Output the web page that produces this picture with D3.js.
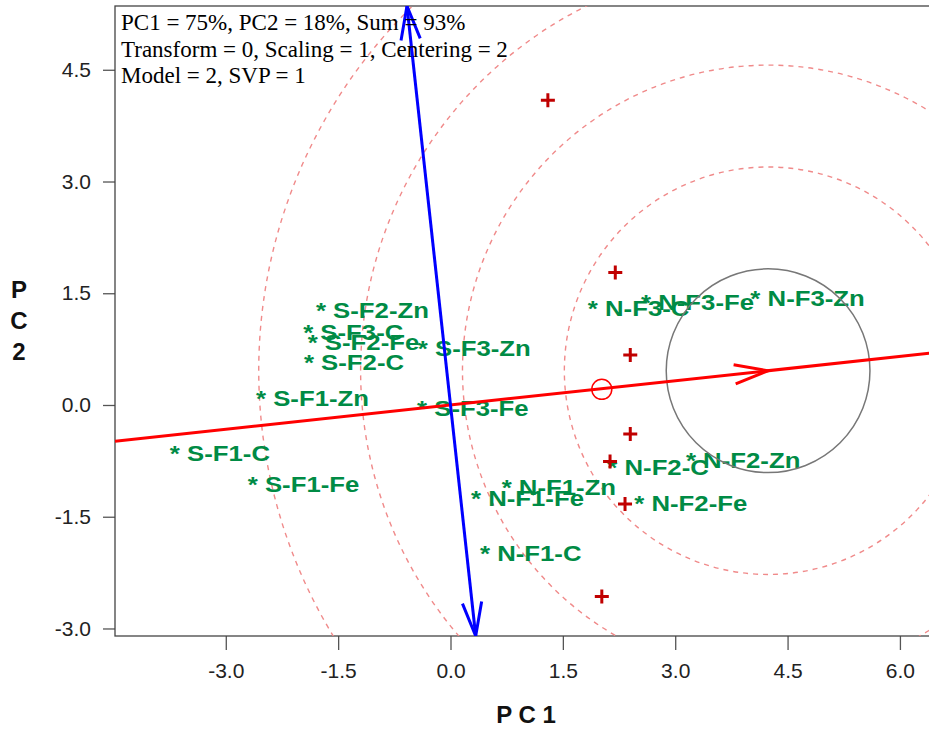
<!DOCTYPE html>
<html lang="en">
<head>
<meta charset="utf-8">
<title>GGE biplot</title>
<script src="https://cdn.jsdelivr.net/npm/d3@7"></script>
<style>
  body { margin: 0; background: #fff; }
</style>
</head>
<body>
<script>
var w = 929, h = 729;

// genotypes (PC1, PC2)
var genoNames = ["S-F2-Zn", "S-F3-C", "S-F2-Fe", "S-F3-Zn", "S-F2-C", "S-F1-Zn", "S-F3-Fe", "S-F1-C", "S-F1-Fe",
                 "N-F1-Zn", "N-F1-Fe", "N-F1-C", "N-F3-C", "N-F3-Fe", "N-F3-Zn", "N-F2-C", "N-F2-Zn", "N-F2-Fe"];
var genoPC1 = [-1.73, -1.90, -1.84, -0.37, -1.89, -2.53, -0.38, -3.68, -2.64,
               0.75, 0.34, 0.46, 1.90, 2.61, 4.07, 2.16, 3.21, 2.52];
var genoPC2 = [1.34, 1.05, 0.91, 0.83, 0.64, 0.16, 0.03, -0.58, -0.99,
               -1.03, -1.18, -1.92, 1.37, 1.45, 1.50, -0.77, -0.67, -1.25];

// environments (+ markers)
var envPC1 = [1.30, 2.20, 2.40, 2.40, 2.13, 2.33, 2.02];
var envPC2 = [4.09, 1.78, 0.67, -0.39, -0.76, -1.33, -2.57];

var avgEnv = [2.02, 0.21];   // small circle
var ideal = [4.24, 0.46];    // arrow tip, centre of the rings
var ringStep = 1.36;
var rings = [2, 3, 4, 5];

var xTicks = [-3.0, -1.5, 0.0, 1.5, 3.0, 4.5, 6.0];
var yTicks = [-3.0, -1.5, 0.0, 1.5, 3.0, 4.5];

var infoLines = ["PC1 = 75%, PC2 = 18%, Sum = 93%",
                 "Transform = 0, Scaling = 1, Centering = 2",
                 "Model = 2, SVP = 1"];

// plot box
var boxL = 115, boxT = 6, boxB = 636, boxR = 940;

var x = d3.scaleLinear().domain([-4.479, 6.535]).range([boxL, boxR]);
var y = d3.scaleLinear().domain([-3.101, 5.356]).range([boxB, boxT]);

var svg = d3.select("body").append("svg")
  .attr("width", w)
  .attr("height", h);

svg.append("clipPath").attr("id", "plotClip")
  .append("rect")
  .attr("x", boxL).attr("y", boxT)
  .attr("width", boxR - boxL).attr("height", boxB - boxT);

//axes
var fmt = function(d) { return d.toFixed(1); };

var xAxis = svg.append("g")
  .attr("transform", "translate(0," + boxB + ")")
  .call(d3.axisBottom(x).tickValues(xTicks).tickFormat(fmt).tickSize(14).tickPadding(13));
var yAxis = svg.append("g")
  .attr("transform", "translate(" + boxL + ",0)")
  .call(d3.axisLeft(y).tickValues(yTicks).tickFormat(fmt).tickSize(12).tickPadding(12));

[xAxis, yAxis].forEach(function(g) {
  g.select(".domain").remove();
  g.selectAll(".tick line").attr("stroke", "#555").attr("stroke-width", 1.3);
  g.selectAll(".tick text")
    .attr("fill", "#222")
    .attr("font-family", "'Liberation Sans', Arial, sans-serif")
    .attr("font-size", "21px");
});

svg.append("rect")
  .attr("x", boxL).attr("y", boxT)
  .attr("width", boxR - boxL).attr("height", boxB - boxT)
  .attr("fill", "none")
  .attr("stroke", "#444")
  .attr("stroke-width", 1.3);

var plot = svg.append("g").attr("clip-path", "url(#plotClip)");

//dashed rings
plot.selectAll("circle.ring")
  .data(rings)
  .enter()
  .append("circle")
  .attr("class", "ring")
  .attr("cx", x(ideal[0]))
  .attr("cy", y(ideal[1]))
  .attr("r", function(d) { return x(d * ringStep) - x(0); })
  .attr("fill", "none")
  .attr("stroke", "#f08a8a")
  .attr("stroke-width", 1.4)
  .attr("stroke-dasharray", "5,5");

//genotype labels
var labelScale = 1.12;
plot.selectAll("text.geno")
  .data(genoNames)
  .enter()
  .append("text")
  .attr("class", "geno")
  .attr("transform", function(d, i) {
    return "translate(" + (x(genoPC1[i]) - 5) + "," + (y(genoPC2[i]) + 13) + ") scale(" + labelScale + ",1)";
  })
  .attr("font-family", "'Liberation Sans', Arial, sans-serif")
  .attr("font-weight", "bold")
  .attr("font-size", "23px")
  .attr("fill", "#008B45")
  .text(function(d) { return "* " + d; });

//environment markers
plot.selectAll("path.env")
  .data(envPC1)
  .enter()
  .append("path")
  .attr("class", "env")
  .attr("d", function(d, i) {
    var px = x(d), py = y(envPC2[i]);
    return "M" + (px - 7) + "," + py + "H" + (px + 7) + "M" + px + "," + (py - 7) + "V" + (py + 7);
  })
  .attr("stroke", "#c00000")
  .attr("stroke-width", 3);

//grey circle
plot.append("circle")
  .attr("cx", x(ideal[0]))
  .attr("cy", y(ideal[1]))
  .attr("r", x(ringStep) - x(0))
  .attr("fill", "none")
  .attr("stroke", "#777")
  .attr("stroke-width", 1.5);

//average environment axis (red) through origin
var slope = ideal[1] / ideal[0];
var xd = x.domain(), yd = y.domain();
plot.append("line")
  .attr("x1", x(xd[0])).attr("y1", y(xd[0] * slope))
  .attr("x2", x(xd[1])).attr("y2", y(xd[1] * slope))
  .attr("stroke", "#ff0000")
  .attr("stroke-width", 3);

//perpendicular (blue)
var perp = -ideal[1] / ideal[0]; // dx per unit dy
var blueTop = [yd[1] * perp, yd[1]];
var blueBot = [yd[0] * perp, yd[0]];
plot.append("line")
  .attr("x1", x(blueTop[0])).attr("y1", y(blueTop[1]))
  .attr("x2", x(blueBot[0])).attr("y2", y(blueBot[1]))
  .attr("stroke", "#0000ff")
  .attr("stroke-width", 3);

//open arrow heads
function arrowHead(tip, from, color) {
  var tx = x(tip[0]), ty = y(tip[1]);
  var ang = Math.atan2(ty - y(from[1]), tx - x(from[0]));
  var len = 35, spread = 16 * Math.PI / 180;
  var pts = [ang + Math.PI - spread, ang + Math.PI + spread].map(function(a) {
    return [tx + len * Math.cos(a), ty + len * Math.sin(a)];
  });
  plot.append("path")
    .attr("d", "M" + pts[0] + "L" + tx + "," + ty + "L" + pts[1])
    .attr("fill", "none")
    .attr("stroke", color)
    .attr("stroke-width", 3);
}
arrowHead(ideal, [0, 0], "#ff0000");
arrowHead(blueTop, [0, 0], "#0000ff");
arrowHead(blueBot, [0, 0], "#0000ff");

//average environment marker
plot.append("circle")
  .attr("cx", x(avgEnv[0]))
  .attr("cy", y(avgEnv[1]))
  .attr("r", 10)
  .attr("fill", "none")
  .attr("stroke", "#ff0000")
  .attr("stroke-width", 1.5);

//info text
svg.selectAll("text.info")
  .data(infoLines)
  .enter()
  .append("text")
  .attr("class", "info")
  .attr("x", 121)
  .attr("y", function(d, i) { return 30 + i * 26.7; })
  .attr("font-family", "'Liberation Serif', 'Times New Roman', serif")
  .attr("font-size", "23px")
  .attr("fill", "#000")
  .text(function(d) { return d; });

//axis titles
svg.append("text")
  .attr("x", 526)
  .attr("y", 723)
  .attr("text-anchor", "middle")
  .attr("font-family", "'Liberation Sans', Arial, sans-serif")
  .attr("font-weight", "bold")
  .attr("font-size", "24px")
  .attr("fill", "#111")
  .text("P C 1");

svg.selectAll("text.ytitle")
  .data(["P", "C", "2"])
  .enter()
  .append("text")
  .attr("class", "ytitle")
  .attr("x", 19)
  .attr("y", function(d, i) { return 298 + i * 31; })
  .attr("text-anchor", "middle")
  .attr("font-family", "'Liberation Sans', Arial, sans-serif")
  .attr("font-weight", "bold")
  .attr("font-size", "24px")
  .attr("fill", "#111")
  .text(function(d) { return d; });
</script>
</body>
</html>
